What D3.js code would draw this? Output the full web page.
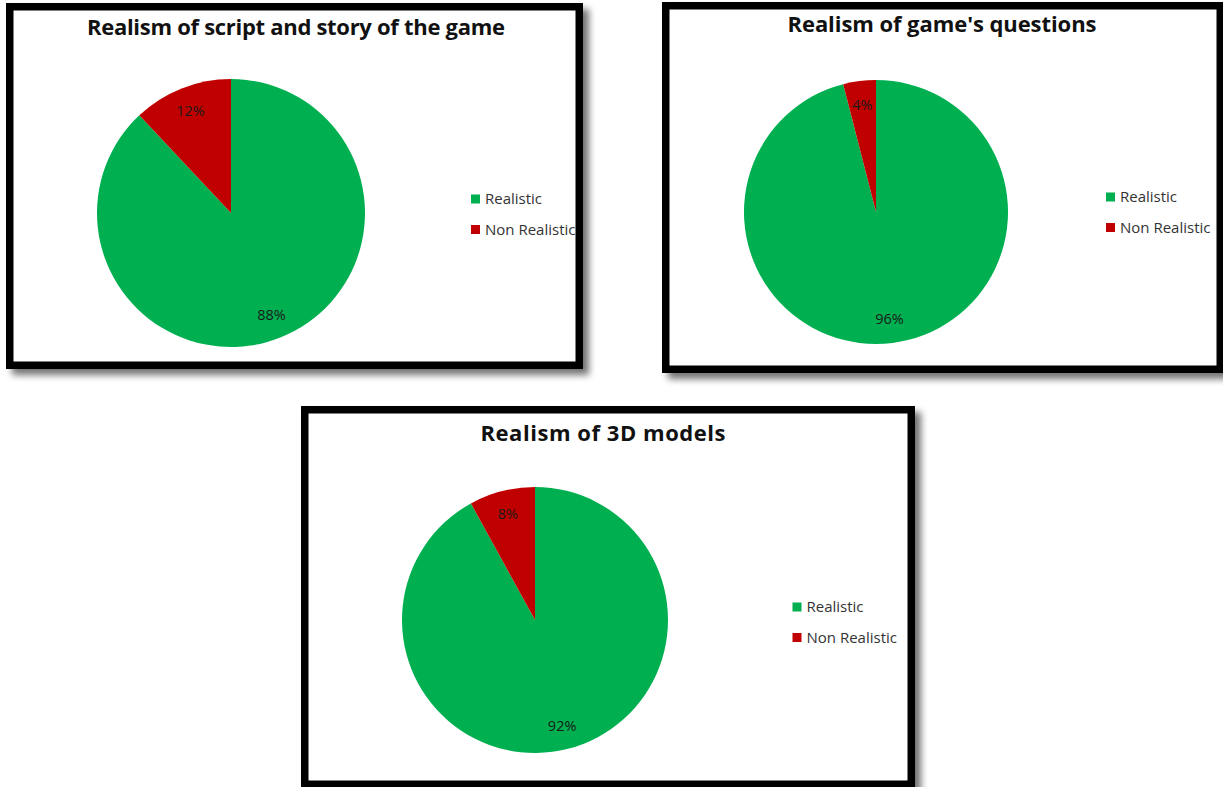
<!DOCTYPE html>
<html>
<head>
<meta charset="utf-8">
<script src="https://cdn.jsdelivr.net/npm/d3@7"></script>
<style>
  html, body { margin: 0; padding: 0; background: #fff; }
  svg { display: block; }
</style>
</head>
<body>
<svg id="chart" width="1223" height="787"></svg>
<script>
// Survey answers: share of players who judged each aspect realistic
const categories = ["Realistic", "Non Realistic"];
const chartTitles = [
  "Realism of script and story of the game",
  "Realism of game's questions",
  "Realism of 3D models"
];
const scriptStoryValues = [88, 12];
const questionValues = [96, 4];
const modelValues = [92, 8];
const seriesColors = ["#00B050", "#C00000"];

// Layout of each framed chart (outer frame box, pie centre, legend anchor)
const panels = [
  { title: chartTitles[0], values: scriptStoryValues,
    frame: { x: 6, y: 3, w: 577, h: 366 }, titleX: 296, titleY: 35, titleW: 418,
    cx: 231, cy: 213, r: 134, legendX: 475.5, legendY: 199 },
  { title: chartTitles[1], values: questionValues,
    frame: { x: 662, y: 2, w: 562, h: 371 }, titleX: 942, titleY: 32, titleW: 309,
    cx: 876, cy: 212, r: 132, legendX: 1110.5, legendY: 197 },
  { title: chartTitles[2], values: modelValues,
    frame: { x: 301, y: 406, w: 614, h: 382 }, titleX: 603, titleY: 441, titleW: 245,
    cx: 535, cy: 620, r: 133, legendX: 797, legendY: 607 }
];

const svg = d3.select("#chart");
const defs = svg.append("defs");
const shadow = defs.append("filter").attr("id", "frameShadow")
  .attr("x", "-5%").attr("y", "-5%").attr("width", "115%").attr("height", "115%");
shadow.append("feGaussianBlur").attr("in", "SourceAlpha").attr("stdDeviation", 3.5).attr("result", "b");
shadow.append("feOffset").attr("in", "b").attr("dx", 6).attr("dy", 6).attr("result", "o");
shadow.append("feComponentTransfer").attr("in", "o").attr("result", "s")
  .append("feFuncA").attr("type", "linear").attr("slope", 0.55);
const merge = shadow.append("feMerge");
merge.append("feMergeNode").attr("in", "s");
merge.append("feMergeNode").attr("in", "SourceGraphic");

const color = d3.scaleOrdinal().domain(categories).range(seriesColors);
const pie = d3.pie().sort(null).value(d => d.value);
const border = 7.5;

panels.forEach(p => {
  const g = svg.append("g");
  const f = p.frame;

  // Framed white panel with a soft shadow
  g.append("rect")
    .attr("x", f.x + border / 2).attr("y", f.y + border / 2)
    .attr("width", f.w - border).attr("height", f.h - border)
    .attr("fill", "#fff").attr("stroke", "#000").attr("stroke-width", border)
    .attr("filter", "url(#frameShadow)");

  g.append("text")
    .attr("x", p.titleX).attr("y", p.titleY)
    .attr("text-anchor", "middle")
    .attr("font-family", "'Open Sans', sans-serif")
    .attr("font-weight", "bold").attr("font-size", 22)
    .attr("textLength", p.titleW).attr("lengthAdjust", "spacing")
    .attr("fill", "#111")
    .text(p.title);

  const data = categories.map((c, i) => ({ category: c, value: p.values[i] }));
  const arcs = pie(data);
  const arc = d3.arc().innerRadius(0).outerRadius(p.r);
  const labelArc = d3.arc().innerRadius(p.r * 0.82).outerRadius(p.r * 0.82);

  const pg = g.append("g").attr("transform", `translate(${p.cx},${p.cy})`);
  pg.selectAll("path").data(arcs).join("path")
    .attr("d", arc)
    .attr("fill", d => color(d.data.category));

  pg.selectAll("text").data(arcs).join("text")
    .attr("transform", d => `translate(${labelArc.centroid(d)})`)
    .attr("text-anchor", "middle").attr("dy", "0.35em")
    .attr("font-family", "'Open Sans', sans-serif")
    .attr("font-size", 14.5).attr("fill", "#1a1a1a")
    .text(d => d.data.value + "%");

  const lg = g.append("g").attr("transform", `translate(${p.legendX},${p.legendY})`);
  const items = lg.selectAll("g").data(categories).join("g")
    .attr("transform", (d, i) => `translate(0,${i * 30.5})`);
  items.append("rect")
    .attr("x", -4.5).attr("y", -4.5).attr("width", 9).attr("height", 9)
    .attr("fill", d => color(d));
  items.append("text")
    .attr("x", 9.5).attr("dy", "0.35em")
    .attr("font-family", "'Open Sans', sans-serif")
    .attr("font-size", 15).attr("fill", "#333")
    .text(d => d);
});
</script>
</body>
</html>
